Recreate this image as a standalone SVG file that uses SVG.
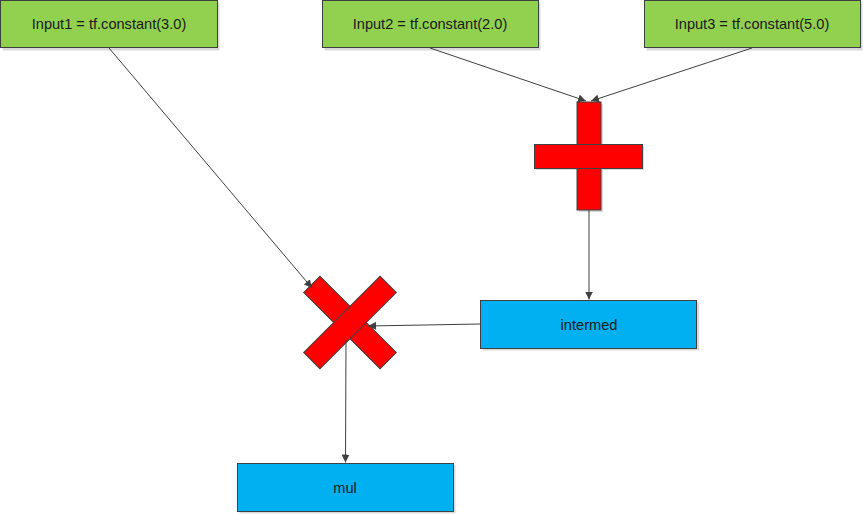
<svg xmlns="http://www.w3.org/2000/svg" width="863" height="514" viewBox="0 0 863 514">
<style>
.g{fill:#92D050;stroke:#404040;stroke-width:1}
.b{fill:#00B0F0;stroke:#404040;stroke-width:1}
.r{fill:#FF0000;stroke:#404040;stroke-width:1}
.sh{fill:#d9d9d9}
.t{font-family:"Liberation Sans",Arial,sans-serif;font-size:14.6px;fill:#1a1a1a;text-anchor:middle;dominant-baseline:central}
.c{fill:none;stroke:#404040;stroke-width:1;marker-end:url(#a)}
</style>
<defs>
<marker id="a" viewBox="0 0 10 10" refX="10" refY="5" markerWidth="8" markerHeight="8" markerUnits="userSpaceOnUse" orient="auto">
<path d="M0,0 L10,5 L0,10 z" fill="#404040"/>
</marker>
</defs>
<rect width="863" height="514" fill="#fff"/>
<g id="input1">
<rect class="sh" x="2.5" y="2.5" width="217" height="48"/>
<rect class="g" x="0.5" y="0.5" width="217" height="47"/>
<text class="t" x="109" y="24">Input1 = tf.constant(3.0)</text>
</g>
<g id="input2">
<rect class="sh" x="324.5" y="2.5" width="216" height="48"/>
<rect class="g" x="322.5" y="0.5" width="216" height="47"/>
<text class="t" x="430" y="24">Input2 = tf.constant(2.0)</text>
</g>
<g id="input3">
<rect class="sh" x="646.5" y="2.5" width="216" height="48"/>
<rect class="g" x="644.5" y="0.5" width="216" height="47"/>
<text class="t" x="752" y="24">Input3 = tf.constant(5.0)</text>
</g>
<g id="add">
<rect class="sh" x="579" y="104" width="24" height="108"/>
<rect class="sh" x="536" y="146" width="108" height="24"/>
<rect class="r" x="577" y="102" width="24" height="108"/>
<rect class="r" x="534.5" y="144.5" width="108" height="24"/>
<rect x="577.5" y="145" width="23" height="23" fill="#FF0000"/>
</g>
<g id="multiply">
<g transform="translate(350,322.5)">
<rect class="r" x="-54" y="-11.5" width="108" height="23" transform="rotate(45)"/>
<rect class="r" x="-54" y="-11.5" width="108" height="23" transform="rotate(-45)"/>
</g>
</g>
<g id="intermed">
<rect class="sh" x="483" y="302.5" width="216" height="48"/>
<rect class="b" x="480.5" y="300.5" width="216" height="48"/>
<text class="t" x="589" y="324.5">intermed</text>
</g>
<g id="mul">
<rect class="sh" x="239.5" y="465.5" width="216" height="48"/>
<rect class="b" x="237.5" y="463.5" width="216" height="48"/>
<text class="t" x="345" y="487.5">mul</text>
</g>
<g id="connectors">
<path class="c" d="M109,48 L312,288"/>
<path class="c" d="M430,48 L586,101"/>
<path class="c" d="M752,48 L591,101"/>
<path class="c" d="M589,210 L589,299.5"/>
<path class="c" d="M480.5,324 L368,326"/>
<path class="c" d="M346,340 L345.5,462.5"/>
</g>
</svg>
